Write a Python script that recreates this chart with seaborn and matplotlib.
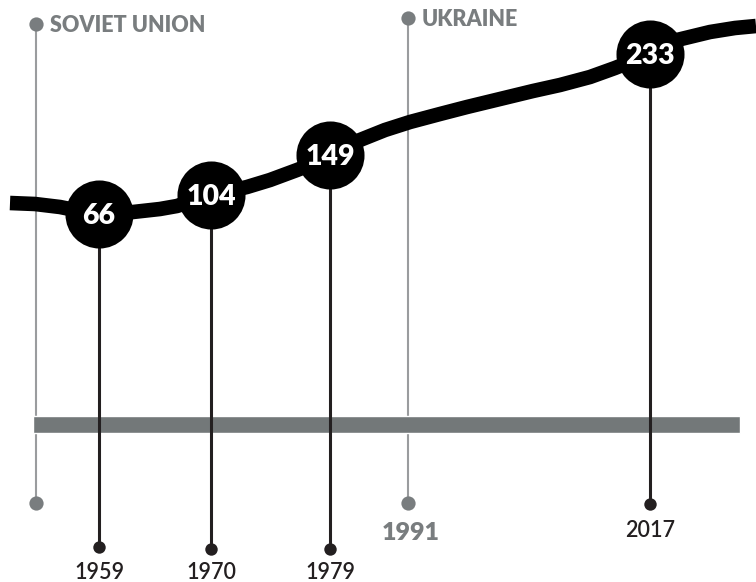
import matplotlib
matplotlib.use('Agg')

import matplotlib.pyplot as plt
import seaborn as sns

# population values shown in the bubbles
years = ['1959', '1970', '1979', '2017']
values = [66, 104, 149, 233]

# layout of the bubbles (pixel-like canvas, y grows downwards)
year_x = [99, 211, 330, 650]
bubble_y = [214, 195, 155, 54]
stem_end_y = [547, 549, 549, 504]
year_label_y = [579, 579, 579, 537]

# the thick trend line
curve_x = [10, 35, 60, 80, 99, 133, 160, 177, 195, 212, 230, 247, 270, 297, 315, 330, 345,
           360, 385, 410, 440, 467, 500, 533, 560, 590, 615, 650, 677, 710, 735, 756]
curve_y = [203, 204, 207, 211, 214, 212, 209, 206, 200, 195, 191, 187, 180, 170, 163, 155, 147,
           140, 130, 122, 114, 107, 99, 91, 85, 77, 68, 54, 40, 32, 28, 26]

# era markers
era_labels = ['SOVIET UNION', 'UKRAINE']
era_x = [36, 408]
era_top_y = [24, 18]
era_year = ['', '1991']

GRAY = '#797d7f'
DARK = '#231f20'

sns.set_style('white')
plt.rcParams['font.family'] = ['Lato', 'DejaVu Sans']

fig = plt.figure(figsize=(7.56, 5.82), dpi=100)
ax = fig.add_axes([0, 0, 1, 1])
ax.set_xlim(0, 756)
ax.set_ylim(582, 0)
ax.axis('off')

# gray timeline bar
ax.barh(y=424.5, width=707, left=33, height=17, color='#737879', zorder=1)

# era lines + dots
for lab, x, ty, yr in zip(era_labels, era_x, era_top_y, era_year):
    ax.plot([x, x], [ty, 503], color='#9a9c9e', lw=1.5, zorder=0)
    ax.text(x + 14, ty + 8, lab, color=GRAY, fontsize=15.5, fontweight='heavy', va='baseline', ha='left')
    if yr:
        ax.text(x + 3, 540, yr, color=GRAY, fontsize=18, fontweight='heavy', va='baseline', ha='center')
sns.scatterplot(x=era_x, y=era_top_y, s=105, color=GRAY, linewidth=0, ax=ax, zorder=2)
sns.scatterplot(x=era_x, y=[503, 503], s=105, color=GRAY, linewidth=0, ax=ax, zorder=2)

# trend line
sns.lineplot(x=curve_x, y=curve_y, sort=False, estimator=None, color='black', linewidth=10.5,
             solid_capstyle='butt', solid_joinstyle='round', ax=ax, zorder=3)

# stems from bubbles down to year dots
for x, by, ey in zip(year_x, bubble_y, stem_end_y):
    ax.plot([x, x], [by, ey], color=DARK, lw=2.2, zorder=2)
sns.scatterplot(x=year_x, y=stem_end_y, s=80, color=DARK, linewidth=0, ax=ax, zorder=4)

# bubbles
sns.scatterplot(x=year_x, y=bubble_y, s=2400, color='black', linewidth=0, ax=ax, zorder=4)
for x, by, v in zip(year_x, bubble_y, values):
    ax.text(x, by + 10, str(v), color='white', fontsize=20.5, fontweight='heavy',
            ha='center', va='baseline', zorder=5)

for x, ly, yr in zip(year_x, year_label_y, years):
    ax.text(x, ly, yr, color=DARK, fontsize=15.5, fontweight='semibold',
            ha='center', va='baseline', zorder=5)

fig.savefig('out.png', dpi=100)
plt.close(fig)
